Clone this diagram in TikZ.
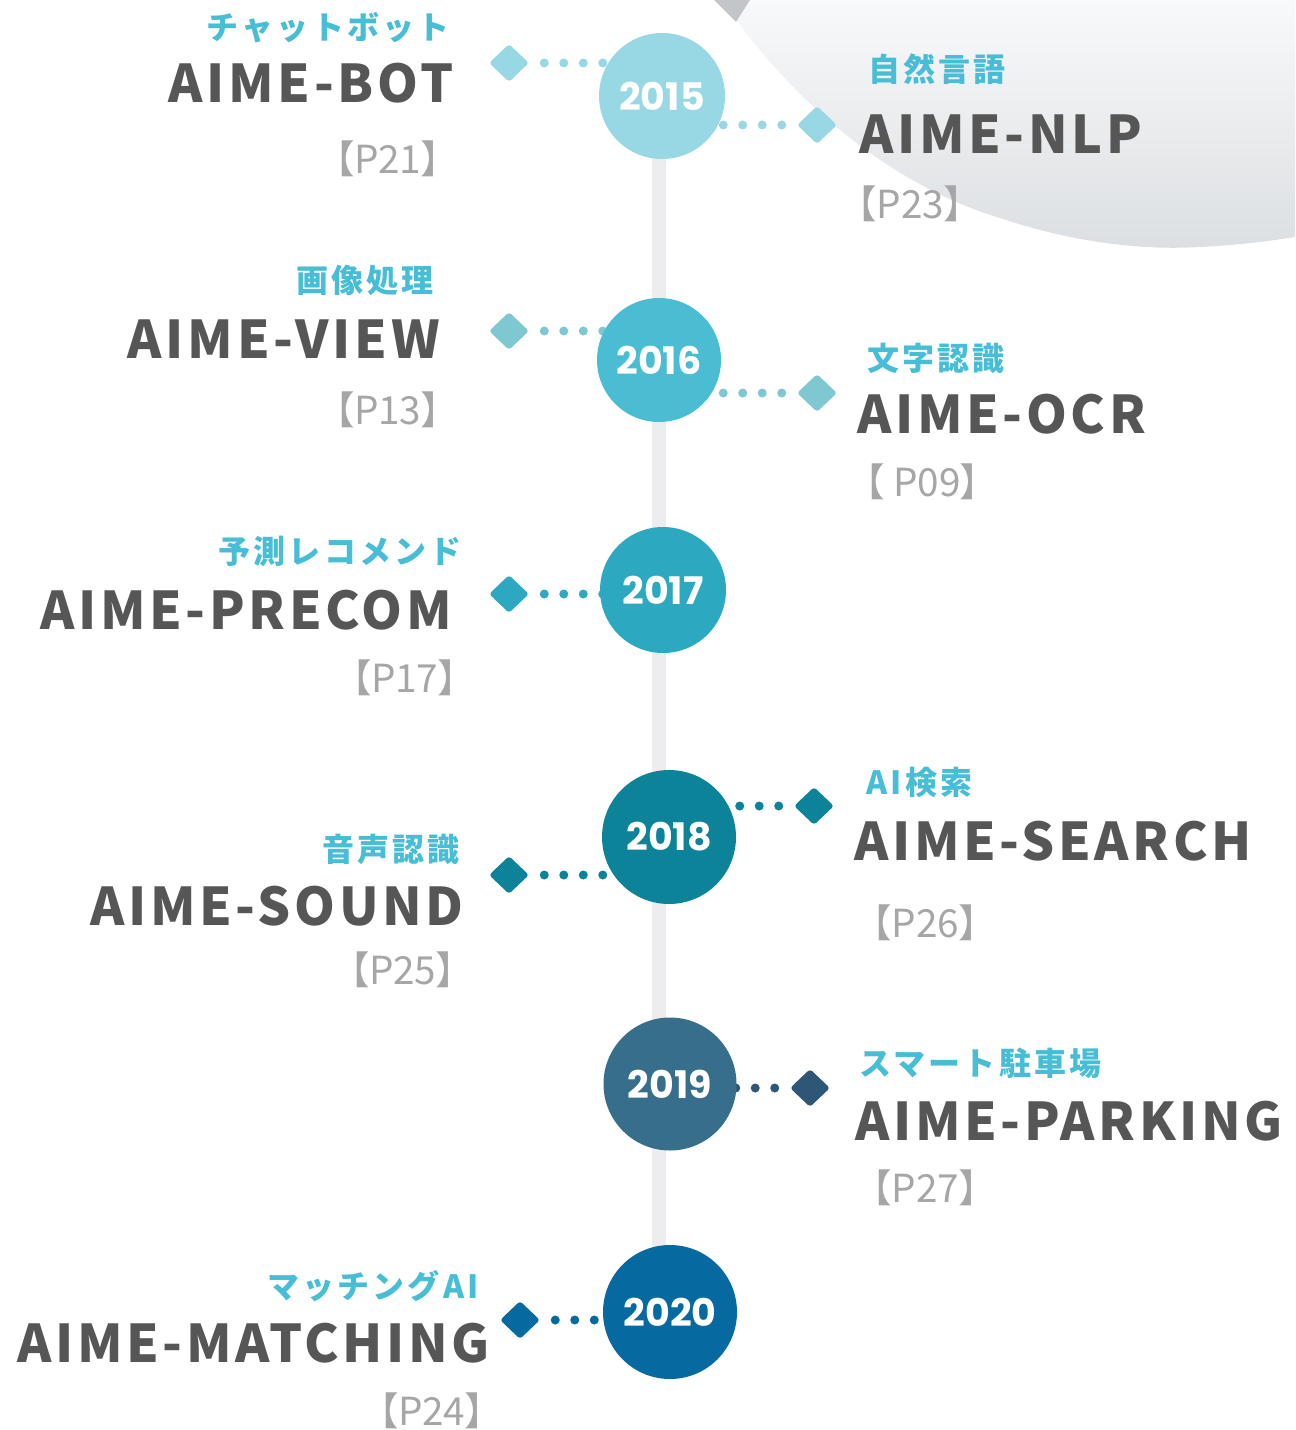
\documentclass[tikz,border=0pt]{standalone}
\usepackage{fontspec}
\usetikzlibrary{shapes.geometric,calc}
\newfontfamily\ttlfont[LetterSpace=7]{Noto Sans CJK JP}
\newfontfamily\lblfont[LetterSpace=10]{Noto Sans CJK JP}
\newfontfamily\reffont[RawFeature=+palt]{Noto Sans CJK JP}
\newfontfamily\yrfont{Poppins}
\definecolor{cA}{HTML}{98D8E4}
\definecolor{cB}{HTML}{4BBDD3}
\definecolor{cBd}{HTML}{7FC8D2}
\definecolor{cC}{HTML}{2CA9C0}
\definecolor{cD}{HTML}{0C8398}
\definecolor{cE}{HTML}{366E8B}
\definecolor{cEd}{HTML}{2E5677}
\definecolor{cF}{HTML}{066AA0}
\definecolor{lblcol}{HTML}{47BDD6}
\definecolor{ttlcol}{HTML}{565656}
\definecolor{refcol}{HTML}{A6A6A6}
\definecolor{barcol}{HTML}{EDEDF0}
\definecolor{bgA}{HTML}{F8F9FA}
\definecolor{bgB}{HTML}{DCDFE2}
\definecolor{bgDark}{HTML}{C3C6C9}
\tikzset{
  yearnode/.style={circle, fill=#1, inner sep=0pt, text=white, font=\yrfont\bfseries\fontsize{28.5}{31}\selectfont},
  dia/.style={diamond, fill=#1, inner sep=0pt, minimum width=30pt, minimum height=28.5pt, rounded corners=2.25pt},
  dotline/.style={draw=#1, line width=6.75pt, line cap=round, dash pattern=on 0pt off 14.625pt, dash phase=3.375pt},
  ttl/.style={inner sep=0pt, text=ttlcol, font=\ttlfont\bfseries\fontsize{39}{44}\selectfont},
  lbl/.style={inner sep=0pt, text=lblcol, font=\lblfont\bfseries\fontsize{24}{28}\selectfont},
  pref/.style={inner sep=0pt, text=refcol, font=\reffont\fontsize{29}{32}\selectfont},
}
\begin{document}
\begin{tikzpicture}[x=0.75pt,y=-0.75pt]
\useasboundingbox (0,0) rectangle (1295,1430);
% background shape top right
\shade[top color=bgA, bottom color=bgB]
  (722,0) .. controls (790,100) and (890,185) .. (1000,218)
  .. controls (1080,245) and (1150,250) .. (1200,247)
  .. controls (1240,245) and (1270,241) .. (1295,237) -- (1295,0) -- cycle;
\fill[bgDark] (714,0) -- (750,0) -- (736,22) -- cycle;
% vertical bar
\coordinate (bartop) at (659,96);
\coordinate (barbot) at (659,1312);
\draw[barcol, line width=10.5pt] (bartop) -- (barbot);
% diamonds
\node[dia=cA] (d15l) at (509,63) {};
\node[dia=cA] (d15r) at (817,125) {};
\node[dia=cBd] (d16l) at (509,331) {};
\node[dia=cBd] (d16r) at (817,393) {};
\node[dia=cC] (d17l) at (509,594) {};
\node[dia=cD] (d18r) at (814,806) {};
\node[dia=cD] (d18l) at (509,875) {};
\node[dia=cEd] (d19r) at (810,1088) {};
\node[dia=cF] (d20l) at (520,1320) {};
% circle coordinates
\coordinate (p15) at (662,96);
\coordinate (p16) at (659,360);
\coordinate (p17) at (663,590);
\coordinate (p18) at (669,837);
\coordinate (p19) at (670,1084);
\coordinate (p20) at (670,1312);
% dotted connectors
\draw[dotline=cA] (d15l.east) -- (d15l.east -| p15);
\draw[dotline=cA] (d15r.west) -- (d15r.west -| p15);
\draw[dotline=cBd] (d16l.east) -- (d16l.east -| p16);
\draw[dotline=cBd] (d16r.west) -- (d16r.west -| p16);
\draw[dotline=cC] (d17l.east) -- (d17l.east -| p17);
\draw[dotline=cD] (d18r.west) -- (d18r.west -| p18);
\draw[dotline=cD] (d18l.east) -- (d18l.east -| p18);
\draw[dotline=cEd] (d19r.west) -- (d19r.west -| p19);
\draw[dotline=cF] (d20l.east) -- (d20l.east -| p20);
% year circles
\node[yearnode=cA, minimum size=94.5pt] (c15) at (p15) {2015};
\node[yearnode=cB, minimum size=93pt] (c16) at (p16) {2016};
\node[yearnode=cC, minimum size=94.5pt] (c17) at (p17) {2017};
\node[yearnode=cD, minimum size=100.5pt] (c18) at (p18) {2018};
\node[yearnode=cE, minimum size=99.75pt] (c19) at (p19) {2019};
\node[yearnode=cF, minimum size=100.5pt] (c20) at (p20) {2020};
% left column
\node[lbl, anchor=east] (l15) at (450,28) {チャットボット};
\node[ttl, anchor=base east] (t15) at (454,103) {AIME-BOT};
\node[pref, anchor=east] (r15) at (441,159) {【P21】};
\node[lbl, anchor=east] (l16) at (434,280) {画像処理};
\node[ttl, anchor=base east] (t16) at (440,358) {AIME-VIEW};
\node[pref, anchor=east] (r16) at (441,410) {【P13】};
\node[lbl, anchor=east] (l17) at (462,551) {予測レコメンド};
\node[ttl, anchor=base east] (t17) at (452,629) {AIME-PRECOM};
\node[pref, anchor=east] (r17) at (458,678) {【P17】};
\node[lbl, anchor=east] (l18) at (460,849) {音声認識};
\node[ttl, anchor=base east] (t18) at (464,925) {AIME-SOUND};
\node[pref, anchor=east] (r18) at (456,970) {【P25】};
\node[lbl, anchor=east] (l20) at (479,1286) {マッチングAI};
\node[ttl, anchor=base east] (t20) at (490,1362) {AIME-MATCHING};
\node[pref, anchor=east] (r20) at (485,1411) {【P24】};
% right column
\node[lbl, anchor=west] (m15) at (868,69) {自然言語};
\node[ttl, anchor=base west] (u15) at (859,154) {AIME-NLP};
\node[pref, anchor=west] (s15) at (857,204) {【P23】};
\node[lbl, anchor=west] (m16) at (867,358) {文字認識};
\node[ttl, anchor=base west] (u16) at (857,433) {AIME-OCR};
\node[pref, anchor=west] (s16) at (865,482) {【 P09】};
\node[lbl, anchor=west] (m18) at (866,782) {AI検索};
\node[ttl, anchor=base west] (u18) at (854,860) {AIME-SEARCH};
\node[pref, anchor=west] (s18) at (872,923) {【P26】};
\node[lbl, anchor=west] (m19) at (859,1063) {スマート駐車場};
\node[ttl, anchor=base west] (u19) at (855,1140) {AIME-PARKING};
\node[pref, anchor=west] (s19) at (872,1188) {【P27】};
\end{tikzpicture}
\end{document}
